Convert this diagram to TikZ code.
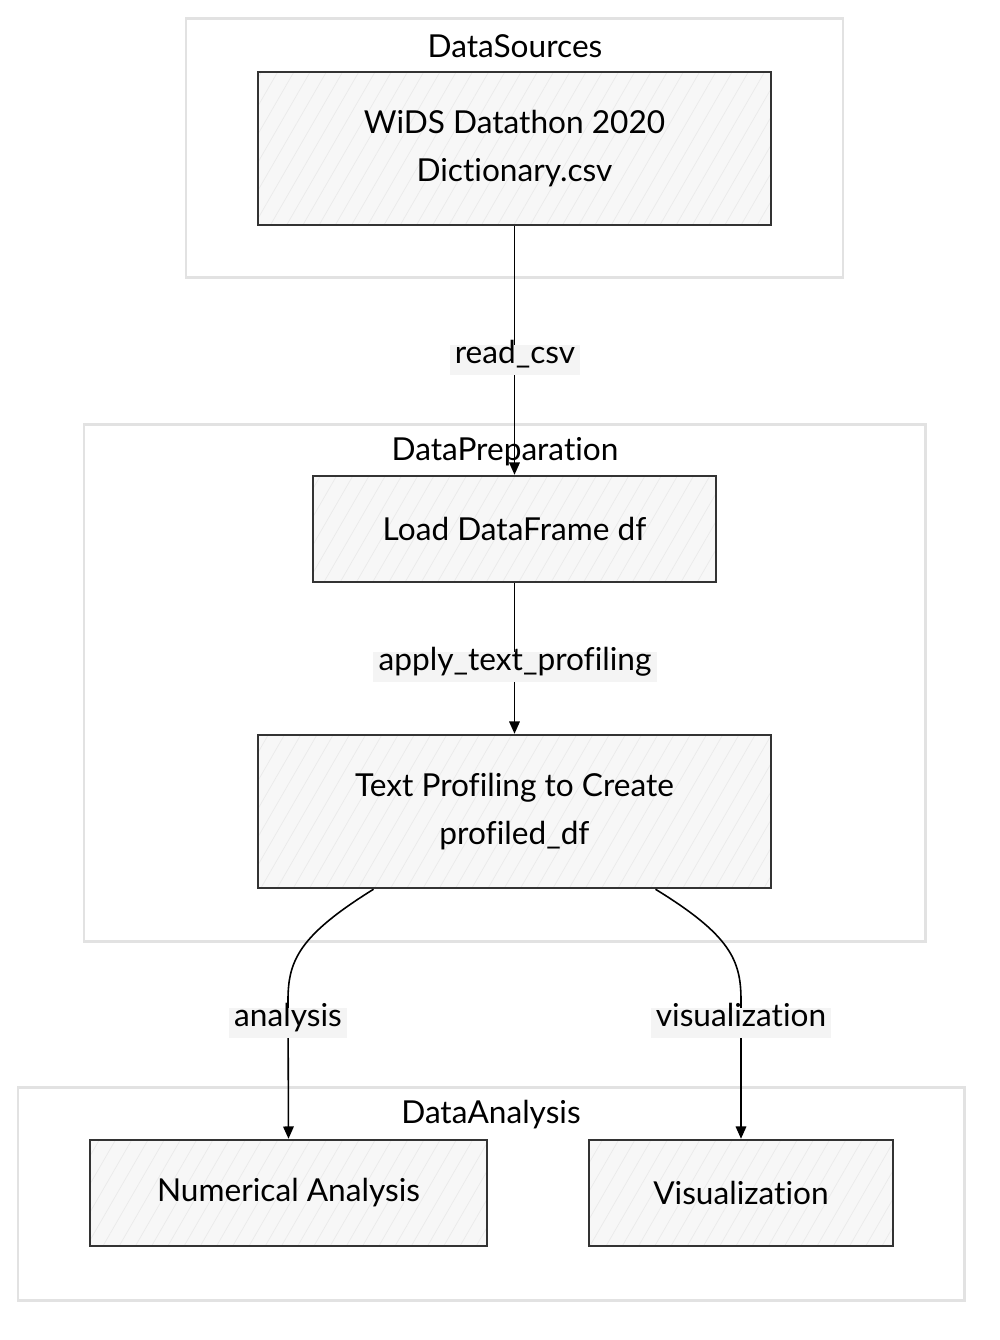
\documentclass[tikz,border=0pt]{standalone}
\usepackage{fontspec}
\setmainfont{Lato}[Ligatures={NoCommon,NoContextual}]
\usetikzlibrary{arrows.meta,calc,patterns.meta}
\definecolor{boxfill}{HTML}{F7F7F7}
\definecolor{boxline}{HTML}{333333}
\definecolor{hatch}{HTML}{EAEAEA}
\definecolor{clusterline}{HTML}{E2E2E2}
\definecolor{labelbg}{HTML}{F4F4F4}
\tikzset{
  cluster/.style={draw=clusterline,line width=1.7pt,fill=white},
  proc/.style={draw=boxline,line width=1.4pt,
    preaction={fill=boxfill},
    preaction={pattern={Lines[angle=60,distance=8pt,line width=0.4pt]},pattern color=hatch},
    align=center,font=\fontsize{18}{27}\selectfont},
  ctitle/.style={font=\fontsize{18}{20}\selectfont},
  elabel/.style={fill=labelbg,font=\fontsize{18}{20}\selectfont,inner sep=3pt,text height=0.8em,text depth=0.35em},
  flow/.style={draw=black,line width=0.9pt,-{Triangle[length=7pt,width=6pt]}}
}
\begin{document}
\begin{tikzpicture}[x=0.02cm,y=-0.02cm]
\useasboundingbox (0,0) rectangle (1000,1340);
% clusters
\draw[cluster] (186,18) rectangle (843,277);
\node[ctitle] (t1) at (515,46) {DataSources};
\draw[cluster] (84,424) rectangle (925,941);
\node[ctitle] (t2) at (505,452) {DataPreparation};
\draw[cluster] (18,1087) rectangle (964,1300);
\node[ctitle] (t3) at (491,1115) {DataAnalysis};
% nodes
\node[proc,minimum width=513*0.02cm,minimum height=153*0.02cm] (b1) at (514.5,148.5) {WiDS Datathon 2020\\Dictionary.csv};
\node[proc,minimum width=403*0.02cm,minimum height=106*0.02cm] (b2) at (514.5,529) {Load DataFrame df};
\node[proc,minimum width=513*0.02cm,minimum height=153*0.02cm] (b3) at (514.5,811.5) {Text Profiling to Create\\profiled\_df};
\node[proc,minimum width=397*0.02cm,minimum height=106*0.02cm] (b4) at (288.5,1193) {Numerical Analysis};
\node[proc,minimum width=304*0.02cm,minimum height=106*0.02cm] (b5) at (741,1193) {Visualization};
% edges
\draw[flow] (b1.south) -- (b2.north);
\node[elabel] (l1) at (515,360) {read\_csv};
\draw[flow] (b2.south) -- (b3.north);
\node[elabel] (l2) at (515,667) {apply\_text\_profiling};
\coordinate (s4) at ($(b3.south)+(-141,0)$);
\coordinate (s5) at ($(b3.south)+(141,0)$);
\draw[flow] (s4) .. controls (300,935) and (288,960) .. (288,1000) -- (b4.north);
\node[elabel] (l3) at (288,1023) {analysis};
\draw[flow] (s5) .. controls (730,935) and (741,960) .. (741,1000) -- (b5.north);
\node[elabel] (l4) at (741,1023) {visualization};
\end{tikzpicture}
\end{document}
